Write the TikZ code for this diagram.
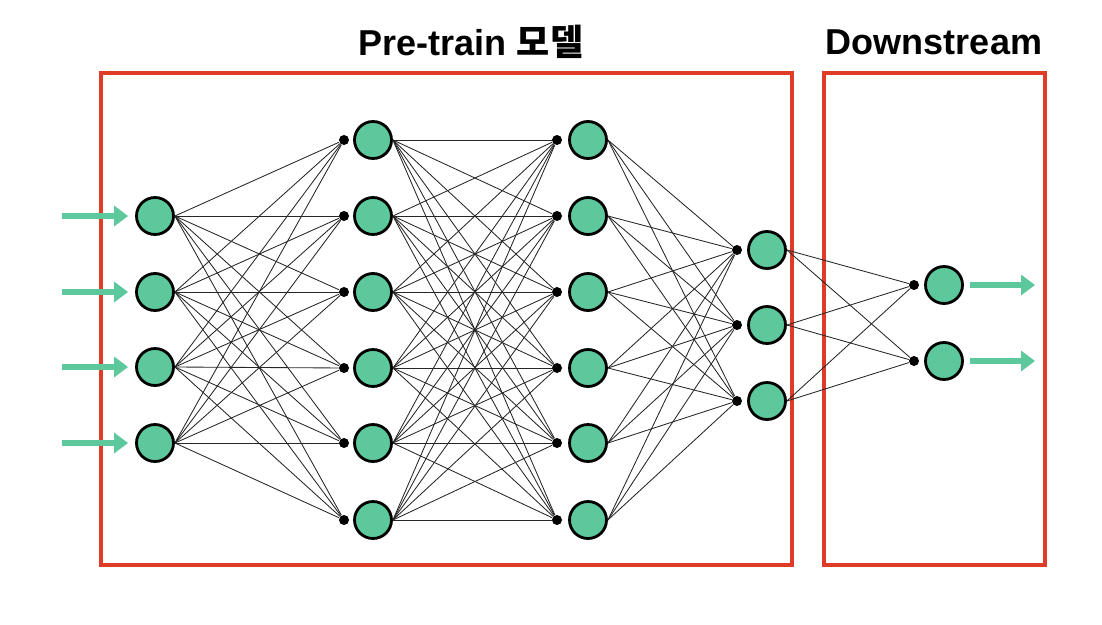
\documentclass[tikz,border=0pt]{standalone}
\usepackage{fontspec}
\setmainfont{Liberation Sans}
\newfontfamily\krfont{Noto Sans CJK KR Bold}
\usetikzlibrary{arrows.meta,positioning}
\definecolor{neurongreen}{RGB}{92,200,155}
\definecolor{boxred}{RGB}{222,60,38}

\begin{document}
\begin{tikzpicture}[x=1pt, y=-1pt, line width=0.85pt, black!85,
    neuron/.style={circle, draw=black, line width=2.8pt, fill=neurongreen, minimum size=37pt, inner sep=0pt},
    joint/.style={circle, fill=black, minimum size=10pt, inner sep=0pt},
    redbox/.style={draw=boxred, line width=3.8pt},
    flow/.style={draw=neurongreen, line width=5.5pt, -{Triangle[length=14pt, width=20pt]}},
    title/.style={text=black, font=\bfseries\fontsize{36}{40}\selectfont}]
    \useasboundingbox (0,0) rectangle (1102,624);

    %Boxes
    \draw[redbox] (101,73) rectangle (792,565);
    \draw[redbox] (824,73) rectangle (1045,565);

    %Titles
    \node[title] (PreTitle)  at (471,42) {Pre-train {\krfont 모델}};
    \node[title] (DownTitle) at (934,42) {Downstream};

    %Nodes
    \foreach \y [count=\i] in {216,292,367,443}
        \node[neuron] (In\i) at (155,\y) {};
    \foreach \y [count=\i] in {140,216,292,368,443,520} {
        \node[joint]  (HidAjoint\i) at (344,\y) {};
        \node[neuron] (HidA\i)      at (373,\y) {};
        \node[joint]  (HidBjoint\i) at (557,\y) {};
        \node[neuron] (HidB\i)      at (588,\y) {};
    }
    \foreach \y [count=\i] in {250,325,401} {
        \node[joint]  (Featjoint\i) at (737,\y) {};
        \node[neuron] (Feat\i)      at (767,\y) {};
    }
    \foreach \y [count=\i] in {285,361} {
        \node[joint]  (Downjoint\i) at (914,\y) {};
        \node[neuron] (Down\i)      at (944,\y) {};
    }

    %Lines
    \foreach \i in {1,...,4}
        \foreach \j in {1,...,6}
            \draw (In\i.east) -- (HidAjoint\j);
    \foreach \i in {1,...,6}
        \foreach \j in {1,...,6}
            \draw (HidA\i.east) -- (HidBjoint\j);
    \foreach \i in {1,...,6}
        \foreach \j in {1,...,3}
            \draw (HidB\i.east) -- (Featjoint\j);
    \foreach \i in {1,...,3}
        \foreach \j in {1,...,2}
            \draw (Feat\i.east) -- (Downjoint\j);

    %Arrows
    \foreach \i in {1,...,4} {
        \coordinate (InTail\i) at ([xshift=-93pt]In\i.center);
        \draw[flow, shorten >=7pt] (InTail\i) -- (In\i.west);
    }
    \foreach \i in {1,...,2} {
        \coordinate (OutHead\i) at ([xshift=91pt]Down\i.center);
        \draw[flow, shorten <=6pt] (Down\i.east) -- (OutHead\i);
    }
\end{tikzpicture}
\end{document}
